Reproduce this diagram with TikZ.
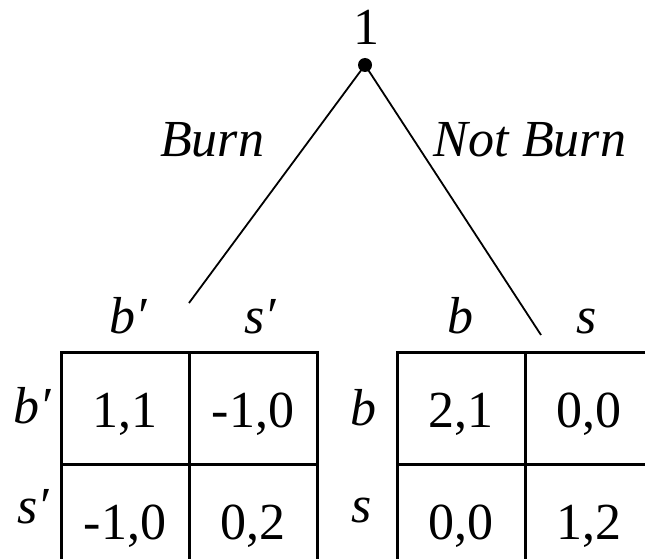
\documentclass[tikz,border=0pt]{standalone}
\usepackage{fontspec}
\setmainfont{Liberation Serif}
\usetikzlibrary{positioning}

\begin{document}
\begin{tikzpicture}[
    x=1pt, y=-1pt,
    every node/.style={font=\fontsize{52}{60}\selectfont},
    decision/.style={circle, fill, inner sep=0pt, minimum size=14pt},
    cell/.style={rectangle, draw, line width=3pt, minimum width=128pt, minimum height=112pt, inner sep=0pt, text height=38pt, text depth=0pt},
    strategy/.style={anchor=base, inner sep=0pt, font=\fontsize{52}{60}\selectfont\itshape},
    line/.style={draw, line width=1.8pt}
]
    \useasboundingbox (0,0) rectangle (645,559);

    % Decision node of player 1
    \node[decision] (root) at (365,65) {};
    \node[anchor=base, inner sep=0pt] (player) at (366,45) {1};
    \coordinate (burnend) at (189,303);
    \coordinate (notburnend) at (541,335);

    % Branches
    \draw[line] (root.center) -- (burnend);
    \draw[line] (root.center) -- (notburnend);
    \node[strategy] (burn) at (212,157) {Burn};
    \node[strategy] (notburn) at (530,157) {Not Burn};

    % Game after Burn
    \node[cell] (b11) at (125,408) {1,1};
    \node[cell] (b12) at (253,408) {-1,0};
    \node[cell] (b21) at (125,520) {-1,0};
    \node[cell] (b22) at (253,520) {0,2};
    \node[strategy] (bc1) at (128,333) {b′};
    \node[strategy] (bc2) at (260,333) {s′};
    \node[strategy] (br1) at (32,423) {b′};
    \node[strategy] (br2) at (33,523) {s′};

    % Game after Not Burn
    \node[cell] (n11) at (461,408) {2,1};
    \node[cell] (n12) at (589,408) {0,0};
    \node[cell] (n21) at (461,520) {0,0};
    \node[cell] (n22) at (589,520) {1,2};
    \node[strategy] (nc1) at (460,333) {b};
    \node[strategy] (nc2) at (587,333) {s};
    \node[strategy] (nr1) at (363,425) {b};
    \node[strategy] (nr2) at (362,522) {s};

\end{tikzpicture}
\end{document}
